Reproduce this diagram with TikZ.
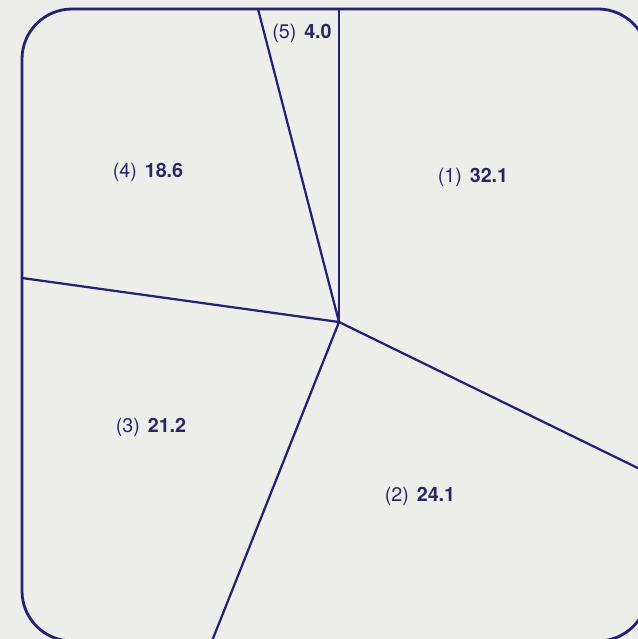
\documentclass[tikz,border=0pt]{standalone}
\usepackage{xcolor}
\usepackage{tikz}
\usepackage{fontspec}
\setmainfont{TeX Gyre Heros}
\definecolor{linenavy}{RGB}{36,34,116}
\definecolor{textnavy}{RGB}{42,40,100}
\definecolor{paper}{RGB}{237,237,233}

\begin{document}
\begin{tikzpicture}[
    x=0.025cm, y=-0.025cm,
    region/.style={text=textnavy, font=\fontsize{14}{16}\selectfont},
    border/.style={draw=linenavy, line width=2pt, rounded corners=1.25cm},
    divider/.style={draw=linenavy, line width=1.6pt}
]

% Paper
\fill[paper] (0,0) rectangle (638,639);
\useasboundingbox (0,0) rectangle (638,639);
\clip (0,0) rectangle (638,639);

% Frame
\draw[border] (22,9) rectangle (648,641);

% Hub and ends on the frame
\coordinate (hub) at (339,322);
\coordinate (topleft) at (258,9);
\coordinate (topright) at (339,9);
\coordinate (left) at (22,278);
\coordinate (bottom) at (212,641);
\coordinate (right) at (648,473);

% Dividers
\draw[divider] (hub) -- (topleft);
\draw[divider] (hub) -- (topright);
\draw[divider] (hub) -- (left);
\draw[divider] (hub) -- (bottom);
\draw[divider] (hub) -- (right);

% Regions
\node[region] (one) at (473,177) {(1)\hspace{0.4em}\textbf{32.1}};
\node[region] (two) at (420,496) {(2)\hspace{0.4em}\textbf{24.1}};
\node[region] (three) at (151,427) {(3)\hspace{0.4em}\textbf{21.2}};
\node[region] (four) at (148,172) {(4)\hspace{0.4em}\textbf{18.6}};
\node[region] (five) at (302,33) {(5)\hspace{0.4em}\textbf{4.0}};

\end{tikzpicture}
\end{document}
